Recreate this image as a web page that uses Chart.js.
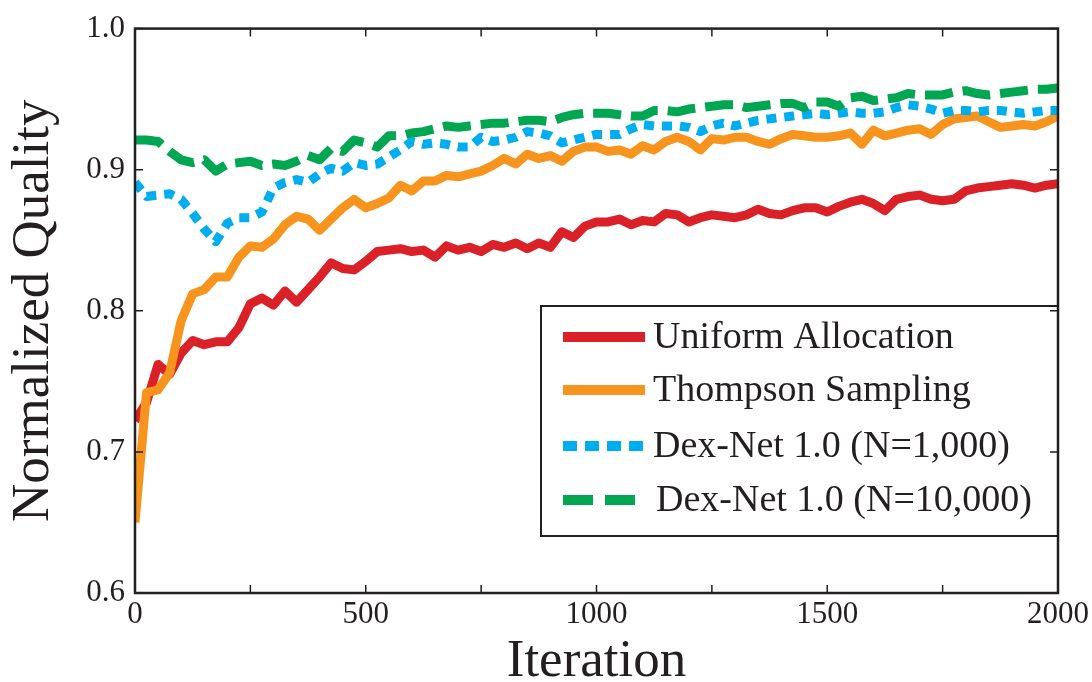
<!DOCTYPE html>
<html>
<head>
<meta charset="utf-8">
<title>Normalized Quality vs Iteration</title>
<script src="https://cdn.jsdelivr.net/npm/chart.js@4.4.0/dist/chart.umd.min.js"></script>
<style>
    body { margin: 0; background: #fff; }
    canvas { display: block; }
</style>
</head>
<body>
<canvas id="qualityChart" width="1092" height="682"></canvas>
<script>
const iterations = [
    0, 25, 50, 75, 100, 125, 150, 175, 200, 225,
    250, 275, 300, 325, 350, 375, 400, 425, 450, 475,
    500, 525, 550, 575, 600, 625, 650, 675, 700, 725,
    750, 775, 800, 825, 850, 875, 900, 925, 950, 975,
    1000, 1025, 1050, 1075, 1100, 1125, 1150, 1175, 1200, 1225,
    1250, 1275, 1300, 1325, 1350, 1375, 1400, 1425, 1450, 1475,
    1500, 1525, 1550, 1575, 1600, 1625, 1650, 1675, 1700, 1725,
    1750, 1775, 1800, 1825, 1850, 1875, 1900, 1925, 1950, 1975,
    2000
];

const uniformAllocation = [
    0.722, 0.735, 0.762, 0.755, 0.770, 0.779, 0.776, 0.778, 0.778, 0.788,
    0.805, 0.809, 0.804, 0.814, 0.806, 0.815, 0.824, 0.834, 0.830, 0.829,
    0.835, 0.842, 0.843, 0.844, 0.842, 0.843, 0.838, 0.846, 0.843, 0.845,
    0.842, 0.847, 0.845, 0.848, 0.844, 0.848, 0.845, 0.856, 0.852, 0.860,
    0.863, 0.863, 0.865, 0.861, 0.864, 0.863, 0.869, 0.868, 0.863, 0.866,
    0.868, 0.867, 0.866, 0.868, 0.872, 0.869, 0.868, 0.871, 0.873, 0.873,
    0.870, 0.874, 0.877, 0.879, 0.876, 0.871, 0.879, 0.881, 0.882, 0.879,
    0.878, 0.879, 0.885, 0.887, 0.888, 0.889, 0.890, 0.889, 0.887, 0.889,
    0.890
];

const thompsonSampling = [
    0.650, 0.742, 0.744, 0.756, 0.793, 0.812, 0.815, 0.824, 0.824, 0.838,
    0.846, 0.845, 0.851, 0.861, 0.867, 0.865, 0.857, 0.865, 0.873, 0.879,
    0.873, 0.876, 0.880, 0.889, 0.885, 0.892, 0.892, 0.896, 0.895, 0.897,
    0.899, 0.903, 0.908, 0.904, 0.911, 0.908, 0.910, 0.906, 0.913, 0.916,
    0.916, 0.913, 0.914, 0.911, 0.917, 0.914, 0.920, 0.923, 0.920, 0.914,
    0.922, 0.921, 0.923, 0.923, 0.920, 0.918, 0.922, 0.925, 0.924, 0.923,
    0.923, 0.924, 0.926, 0.918, 0.928, 0.924, 0.926, 0.928, 0.929, 0.925,
    0.932, 0.936, 0.937, 0.938, 0.934, 0.930, 0.931, 0.932, 0.931, 0.934,
    0.938
];

const dexNet1k = [
    0.891, 0.881, 0.882, 0.883, 0.879, 0.869, 0.858, 0.849, 0.862, 0.866,
    0.866, 0.870, 0.887, 0.891, 0.893, 0.891, 0.897, 0.901, 0.899, 0.905,
    0.903, 0.904, 0.909, 0.914, 0.920, 0.918, 0.919, 0.918, 0.916, 0.916,
    0.923, 0.920, 0.921, 0.923, 0.927, 0.926, 0.924, 0.919, 0.921, 0.923,
    0.925, 0.925, 0.925, 0.929, 0.932, 0.931, 0.931, 0.931, 0.930, 0.927,
    0.931, 0.933, 0.931, 0.933, 0.935, 0.936, 0.937, 0.938, 0.939, 0.940,
    0.939, 0.940, 0.941, 0.940, 0.940, 0.941, 0.944, 0.946, 0.945, 0.943,
    0.940, 0.942, 0.942, 0.941, 0.942, 0.942, 0.941, 0.940, 0.941, 0.942,
    0.942
];

const dexNet10k = [
    0.921, 0.921, 0.920, 0.913, 0.907, 0.905, 0.907, 0.899, 0.904, 0.905,
    0.906, 0.903, 0.904, 0.903, 0.906, 0.910, 0.907, 0.915, 0.913, 0.921,
    0.919, 0.916, 0.924, 0.924, 0.926, 0.927, 0.929, 0.931, 0.930, 0.931,
    0.932, 0.933, 0.933, 0.934, 0.935, 0.935, 0.934, 0.937, 0.939, 0.940,
    0.940, 0.940, 0.939, 0.938, 0.938, 0.942, 0.942, 0.941, 0.943, 0.944,
    0.945, 0.946, 0.946, 0.944, 0.945, 0.946, 0.947, 0.947, 0.944, 0.948,
    0.948, 0.945, 0.951, 0.952, 0.949, 0.950, 0.951, 0.954, 0.953, 0.953,
    0.953, 0.955, 0.956, 0.954, 0.953, 0.954, 0.955, 0.956, 0.957, 0.957,
    0.958
];

const seriesLabels = ['Uniform Allocation', 'Thompson Sampling', 'Dex-Net 1.0 (N=1,000)', 'Dex-Net 1.0 (N=10,000)'];
const xTickLabels = [0, 500, 1000, 1500, 2000];
const yTickLabels = [0.6, 0.7, 0.8, 0.9, 1.0];

const INK = '#231f20';
const SERIF = "'Liberation Serif', 'Times New Roman', serif";

function toPoints(values) {
    return values.map((v, i) => ({ x: iterations[i], y: v }));
}

// frame around the plot area plus short inward tick marks on all four sides
const framePlugin = {
    id: 'frame',
    afterDraw(chart) {
        const { ctx, chartArea: a, scales } = chart;
        const len = 8;
        ctx.save();
        ctx.strokeStyle = INK;
        ctx.lineWidth = 1.5;
        ctx.beginPath();
        scales.x.ticks.forEach(t => {
            const px = scales.x.getPixelForValue(t.value);
            ctx.moveTo(px, a.bottom);
            ctx.lineTo(px, a.bottom - len);
            ctx.moveTo(px, a.top);
            ctx.lineTo(px, a.top + len);
        });
        scales.y.ticks.forEach(t => {
            const py = scales.y.getPixelForValue(t.value);
            ctx.moveTo(a.left, py);
            ctx.lineTo(a.left + len, py);
            ctx.moveTo(a.right, py);
            ctx.lineTo(a.right - len, py);
        });
        ctx.stroke();
        ctx.lineWidth = 2.5;
        ctx.strokeRect(a.left, a.top, a.right - a.left, a.bottom - a.top);
        ctx.restore();
    }
};

// boxed legend in the lower right of the plot
const legendBoxPlugin = {
    id: 'legendBox',
    afterDatasetsDraw(chart) {
        const { ctx } = chart;
        const box = { left: 541, top: 306, right: 1058, bottom: 536 };
        const rows = [337, 390, 446, 500];
        ctx.save();
        ctx.fillStyle = '#fff';
        ctx.fillRect(box.left, box.top, box.right - box.left, box.bottom - box.top);
        ctx.strokeStyle = INK;
        ctx.lineWidth = 2;
        ctx.strokeRect(box.left, box.top, box.right - box.left, box.bottom - box.top);
        chart.data.datasets.forEach((ds, i) => {
            const y = rows[i];
            ctx.beginPath();
            ctx.strokeStyle = ds.borderColor;
            ctx.lineWidth = 10;
            ctx.lineCap = 'butt';
            ctx.setLineDash(ds.legendDash || []);
            ctx.moveTo(563, y);
            ctx.lineTo(645, y);
            ctx.stroke();
            ctx.setLineDash([]);
            ctx.fillStyle = INK;
            ctx.font = '38px ' + SERIF;
            ctx.textBaseline = 'middle';
            ctx.textAlign = 'left';
            ctx.fillText(ds.label, i === 3 ? 656 : 653, y + 1);
        });
        ctx.restore();
    }
};

new Chart(document.getElementById('qualityChart'), {
    type: 'line',
    data: {
        datasets: [
            {
                label: seriesLabels[0],
                data: toPoints(uniformAllocation),
                borderColor: '#da2128',
                order: 3
            },
            {
                label: seriesLabels[1],
                data: toPoints(thompsonSampling),
                borderColor: '#f7941d',
                order: 2
            },
            {
                label: seriesLabels[2],
                data: toPoints(dexNet1k),
                borderColor: '#00aeef',
                borderDash: [10, 8],
                legendDash: [14, 8],
                borderCapStyle: 'butt',
                order: 1
            },
            {
                label: seriesLabels[3],
                data: toPoints(dexNet10k),
                borderColor: '#00a651',
                borderDash: [28, 10],
                legendDash: [30, 12],
                borderCapStyle: 'butt',
                order: 0
            }
        ]
    },
    options: {
        responsive: false,
        animation: false,
        layout: { padding: { top: 21, right: 32, left: 0, bottom: 0 } },
        elements: {
            point: { radius: 0 },
            line: { borderWidth: 9, tension: 0, borderJoinStyle: 'round', fill: false }
        },
        plugins: {
            legend: { display: false },
            tooltip: { enabled: false }
        },
        scales: {
            x: {
                type: 'linear',
                min: 0,
                max: 2000,
                afterFit: s => { s.height = 89; },
                grid: { display: false, drawTicks: false },
                border: { display: false },
                ticks: {
                    stepSize: 250,
                    autoSkip: false,
                    maxRotation: 0,
                    padding: 3,
                    color: INK,
                    font: { family: SERIF, size: 31 },
                    callback: v => xTickLabels.includes(v) ? String(v) : ''
                },
                title: {
                    display: true,
                    text: 'Iteration',
                    color: INK,
                    font: { family: SERIF, size: 53, lineHeight: 0.75 },
                    padding: { top: 0, bottom: 0 }
                }
            },
            y: {
                min: 0.6,
                max: 1.0,
                afterFit: s => { s.width = 135; },
                grid: { display: false, drawTicks: false },
                border: { display: false },
                ticks: {
                    stepSize: 0.1,
                    padding: 10,
                    color: INK,
                    font: { family: SERIF, size: 31 },
                    callback: v => yTickLabels.some(t => Math.abs(t - v) < 1e-6) ? v.toFixed(1) : ''
                },
                title: {
                    display: true,
                    text: 'Normalized Quality',
                    color: INK,
                    font: { family: SERIF, size: 53, lineHeight: 1.2 },
                    padding: { top: 2, bottom: 0 }
                }
            }
        }
    },
    plugins: [framePlugin, legendBoxPlugin]
});
</script>
</body>
</html>
